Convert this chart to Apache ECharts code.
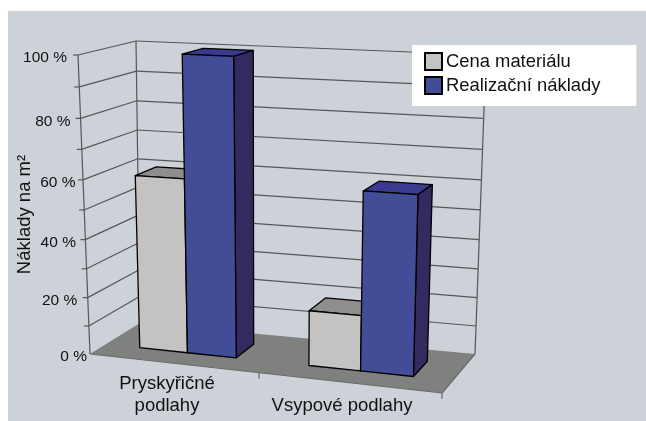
<!DOCTYPE html>
<html>
<head>
<meta charset="utf-8">
<style>
  html, body { margin: 0; padding: 0; background: #fff; }
  #chart { width: 646px; height: 421px; }
</style>
<script src="https://cdn.jsdelivr.net/npm/echarts@6/dist/echarts.min.js"></script>
</head>
<body>
<div id="chart"></div>
<script>
const categories = ["Pryskyřičné\npodlahy", "Vsypové podlahy"];
const materialValues = [60, 19];
const laborValues = [100, 60];
const gridValues = [0, 10, 20, 30, 40, 50, 60, 70, 80, 90, 100];
const tickLabels = { 0: "0 %", 20: "20 %", 40: "40 %", 60: "60 %", 80: "80 %", 100: "100 %" };

// screen corners of the 3D box: front-left, front-right, back-right, back-left
const floorQuad = [[90, 354], [442, 393], [475, 354], [140, 323]];
const topQuad = [[78, 55], [452, 71], [486, 55], [136, 41]];
// perspective foreshortening along each direction
const floorBendU = 1.083;
const topBendU = 1.09;
const depthBend = 0.92;
const heightBend = 1.076;
const barHalfWidth = 0.29;
const labelGaps = { 0: 3, 20: 10.5, 40: 9.5, 60: 7.5, 80: 10, 100: 11 };

const FONT = '"Liberation Sans", Arial, sans-serif';
const WALL = "#565656";

function bend(t, r) {
  return t / (t + (1 - t) * r);
}
function mix(a, b, t) {
  return [a[0] + (b[0] - a[0]) * t, a[1] + (b[1] - a[1]) * t];
}
function quadAt(q, u, w, ru) {
  const su = bend(u, ru), sw = bend(w, depthBend);
  return mix(mix(q[0], q[1], su), mix(q[3], q[2], su), sw);
}

// u: along categories, v: height, w: depth (all 0..1)
function project(u, v, w) {
  return mix(quadAt(floorQuad, u, w, floorBendU), quadAt(topQuad, u, w, topBendU), bend(v, heightBend));
}

function poly(points, fill, stroke, lineWidth) {
  return {
    type: "polygon",
    shape: { points: points },
    style: { fill: fill, stroke: stroke, lineWidth: lineWidth, lineJoin: "round" }
  };
}
function line(a, b, stroke, lineWidth) {
  return {
    type: "line",
    shape: { x1: a[0], y1: a[1], x2: b[0], y2: b[1] },
    style: { stroke: stroke, lineWidth: lineWidth }
  };
}

// bar box, offset is in category widths from the band centre
function barRenderer(from, to, colors) {
  return function (params, api) {
    const cs = params.coordSys;
    const c = api.coord([api.value(0), api.value(1)]);
    const band = api.size([1, 0])[0];
    const u0 = (c[0] + from * band - cs.x) / cs.width;
    const u1 = (c[0] + to * band - cs.x) / cs.width;
    const v = (cs.y + cs.height - c[1]) / cs.height;
    const w0 = 0.3, w1 = 0.7;
    return {
      type: "group",
      children: [
        poly([project(u0, v, w0), project(u1, v, w0), project(u1, v, w1), project(u0, v, w1)], colors.top, "#000", 1.3),
        poly([project(u1, 0, w0), project(u1, v, w0), project(u1, v, w1), project(u1, 0, w1)], colors.side, "#000", 1.3),
        poly([project(u0, 0, w0), project(u1, 0, w0), project(u1, v, w0), project(u0, v, w0)], colors.front, "#000", 1.3)
      ]
    };
  };
}

function renderWall(params, api) {
  const cs = params.coordSys;
  const val = api.value(0);
  const v = (cs.y + cs.height - api.coord([0, val])[1]) / cs.height;
  const children = [];
  if (val === 0) {
    children.push(poly([project(0, 0, 0), project(1, 0, 0), project(1, 0, 1), project(0, 0, 1)], "#7f817f", null, 0));
    children.push(line(project(0, 0, 0), project(1, 0, 0), "#6a6a6a", 1.2));
    children.push(line(project(1, 0, 0), project(1, 0, 1), "#6a6a6a", 1.2));
    children.push(line(project(0, 0, 0), project(0, 1, 0), WALL, 1.2));
    children.push(line(project(0, 0, 1), project(0, 1, 1), WALL, 1.2));
    children.push(line(project(1, 0, 1), project(1, 1, 1), WALL, 1.2));
    // category ticks under the front edge
    [0.5, 1].forEach(function (u) {
      const p = project(u, 0, 0);
      children.push(line(p, [p[0], p[1] + 6], WALL, 1));
    });
  }
  const front = project(0, v, 0);
  if (val > 0) {
    children.push(line([front[0] - 5, front[1]], front, WALL, 1.2));
    children.push(line(front, project(0, v, 1), WALL, 1.2));
    children.push(line(project(0, v, 1), project(1, v, 1), WALL, 1.2));
  }
  if (tickLabels[val]) {
    children.push({
      type: "text",
      style: {
        x: front[0] - labelGaps[val],
        y: front[1] + 3,
        text: tickLabels[val],
        align: "right",
        verticalAlign: "middle",
        font: '15.5px ' + FONT,
        fill: "#111"
      }
    });
  }
  return { type: "group", children: children };
}

const option = {
  animation: false,
  graphic: [{
    type: "rect",
    z: -10,
    silent: true,
    shape: { x: 8, y: 11, width: 638, height: 410 },
    style: { fill: "#cdd2d9" }
  }],
  legend: {
    left: 412,
    top: 45,
    orient: "vertical",
    data: ["Cena materiálu", "Realizační náklady"],
    backgroundColor: "#fff",
    padding: [7, 36, 11, 12],
    itemWidth: 17,
    itemHeight: 17,
    itemGap: 5,
    icon: "rect",
    textStyle: { fontFamily: FONT, fontSize: 18.4, color: "#111", padding: [0, 0, 0, -1] }
  },
  grid: { left: 79.5, width: 350, top: 59, height: 311 },
  xAxis: {
    type: "category",
    data: categories,
    axisLine: { show: false },
    axisTick: { show: false },
    axisLabel: {
      margin: 47,
      verticalAlign: "bottom",
      interval: 0,
      fontFamily: FONT,
      fontSize: 18.5,
      lineHeight: 22,
      color: "#111"
    }
  },
  yAxis: {
    type: "value",
    min: 0,
    max: 100,
    interval: 10,
    name: "Náklady na m²",
    nameLocation: "middle",
    nameGap: 45,
    nameTextStyle: { fontFamily: FONT, fontSize: 18.5, color: "#111" },
    axisLine: { show: false },
    axisTick: { show: false },
    axisLabel: { show: false },
    splitLine: { show: false }
  },
  series: [
    {
      type: "custom",
      name: "walls",
      coordinateSystem: "cartesian2d",
      silent: true,
      data: gridValues.map(function (g) { return [g]; }),
      encode: { y: 0 },
      renderItem: renderWall,
      clip: false
    },
    {
      type: "custom",
      name: "Cena materiálu",
      coordinateSystem: "cartesian2d",
      data: materialValues.map(function (v, i) { return [i, v]; }),
      encode: { x: 0, y: 1 },
      itemStyle: { color: "#c4c3c1", borderColor: "#000", borderWidth: 1.3 },
      renderItem: barRenderer(-barHalfWidth, 0, { front: "#c4c3c1", top: "#8e8f8d", side: "#8e8f8d" }),
      clip: false
    },
    {
      type: "custom",
      name: "Realizační náklady",
      coordinateSystem: "cartesian2d",
      data: laborValues.map(function (v, i) { return [i, v]; }),
      encode: { x: 0, y: 1 },
      itemStyle: { color: "#434c96", borderColor: "#000", borderWidth: 1.3 },
      renderItem: barRenderer(0, barHalfWidth, { front: "#434c96", top: "#3a3b8e", side: "#332a5f" }),
      clip: false
    }
  ]
};

const chart = echarts.init(document.getElementById("chart"));
chart.setOption(option);
</script>
</body>
</html>
